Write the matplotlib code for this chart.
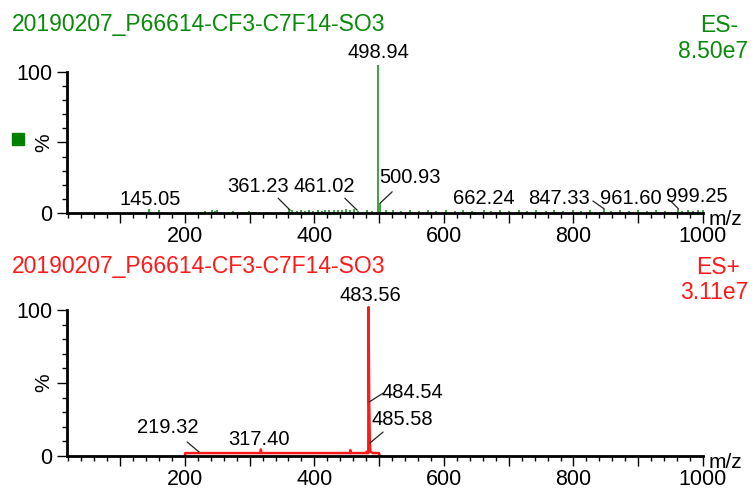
import numpy as np
import matplotlib
matplotlib.use("Agg")
import matplotlib.pyplot as plt
from matplotlib.patches import Rectangle
from matplotlib.ticker import MultipleLocator, FuncFormatter

plt.rcParams['font.family'] = ['Liberation Sans', 'DejaVu Sans']

# ES- spectrum (centroid sticks), % relative intensity
neg_mz = [145.05, 160.1, 231.0, 242.1, 246.0, 250.2, 274.0, 299.1, 361.23, 366.0,
          373.1, 380.0, 386.2, 392.0, 398.1, 405.0, 411.2, 417.0, 423.1, 430.0,
          436.2, 442.0, 449.1, 455.0, 461.02, 467.0, 481.0, 489.1, 498.94, 500.93,
          510.2, 521.0, 534.1, 548.0, 561.2, 575.0, 588.1, 603.0, 617.2, 630.0,
          644.1, 662.24, 672.0, 687.1, 701.0, 715.2, 729.0, 742.1, 757.0, 770.2,
          784.0, 799.1, 812.0, 826.2, 847.33, 858.0, 872.1, 886.0, 900.2, 913.0,
          927.1, 941.0, 961.60, 968.0, 976.1, 984.0, 992.2, 999.25]
neg_int = [2.5, 1.8, 1.6, 2.2, 1.5, 2.0, 1.4, 1.6, 2.6, 1.8,
           1.5, 2.0, 1.6, 2.1, 1.7, 2.3, 1.6, 2.0, 2.4, 1.8,
           2.2, 1.9, 2.5, 2.1, 3.0, 1.7, 2.2, 1.6, 105.0, 7.0,
           1.8, 2.2, 1.6, 2.0, 1.5, 2.1, 1.7, 1.9, 1.5, 2.0,
           1.6, 2.3, 1.6, 2.0, 1.5, 1.9, 1.7, 2.0, 1.5, 1.8,
           1.6, 1.9, 1.5, 1.8, 2.6, 1.6, 1.9, 1.5, 2.0, 1.7,
           1.9, 1.6, 2.6, 1.7, 2.0, 1.6, 1.8, 2.4]

# ES+ spectrum (profile trace)
pos_mz = [200.0, 200.5, 260.0, 317.0, 317.4, 317.8, 400.0, 455.0, 455.4, 455.8,
          480.5, 481.0, 481.5, 483.2, 483.56, 484.54, 485.58, 486.5, 490.0, 500.0, 500.5]
pos_int = [0.0, 2.0, 2.0, 2.0, 4.5, 2.0, 2.0, 2.0, 4.0, 2.0,
           2.0, 3.0, 2.0, 2.0, 102.0, 37.0, 9.0, 3.0, 2.0, 2.0, 0.0]

title = "20190207_P66614-CF3-C7F14-SO3"
neg_mode, neg_tic = "ES-", "8.50e7"
pos_mode, pos_tic = "ES+", "3.11e7"

# peak labels: text, label centre (m/z, %), optional leader (from, to)
neg_labels = [
    ("498.94", (498.3, 114.0), None),
    ("145.05", (146.0, 9.5), None),
    ("361.23", (313.0, 19.0), ((362.5, 2.0), (344.0, 10.5))),
    ("461.02", (415.0, 19.0), ((466.0, 2.0), (447.0, 10.5))),
    ("500.93", (548.0, 25.5), ((501.5, 7.0), (520.0, 15.0))),
    ("662.24", (662.0, 10.5), None),
    ("847.33", (778.0, 10.5), ((847.3, 3.0), (830.0, 8.5))),
    ("961.60", (888.0, 10.5), ((962.0, 3.0), (950.0, 8.5))),
    ("999.25", (991.0, 11.5), None),
]
pos_labels = [
    ("483.56", (486.0, 110.0), None),
    ("219.32", (174.0, 19.2), ((222.0, 2.7), (203.5, 9.6))),
    ("317.40", (315.0, 11.0), None),
    ("484.54", (552.0, 43.8), ((484.5, 37.0), (506.0, 43.0))),
    ("485.58", (535.0, 24.7), ((486.0, 9.0), (506.0, 16.4))),
]

green = '#0a8a0a'
red = '#ff1a1a'

fig = plt.figure(figsize=(7.55, 4.9), dpi=100)
ax1 = fig.add_axes([67/755, 1-213/490, 636/755, 141/490])
ax2 = fig.add_axes([67/755, 1-456/490, 636/755, 146/490])


def style(ax):
    ax.set_xlim(18, 1000)
    ax.set_ylim(0, 100)
    for s in ['top', 'right']:
        ax.spines[s].set_visible(False)
    ax.spines['left'].set_linewidth(2.0)
    ax.spines['bottom'].set_linewidth(2.0)
    ax.xaxis.set_major_locator(MultipleLocator(100))
    ax.xaxis.set_minor_locator(MultipleLocator(20))
    ax.xaxis.set_major_formatter(FuncFormatter(
        lambda v, p: f"{int(v)}" if v % 200 == 0 and v > 0 else ""))
    ax.set_yticks([0, 50, 100])
    ax.set_yticklabels(['0', '', '100'])
    ax.yaxis.set_minor_locator(MultipleLocator(10))
    ax.tick_params(which='major', length=7.5, width=1, labelsize=15.5, pad=3)
    ax.tick_params(which='minor', length=3.8, width=1)
    ax.tick_params(axis='x', which='major', pad=2)
    ax.text(1.008, -0.045, "m/z", transform=ax.transAxes, fontsize=15,
            ha='left', va='center')
    ax.text(-0.036, 0.5, "%", transform=ax.transAxes, fontsize=15,
            rotation=90, ha='center', va='center')
    ax.patch.set_alpha(0)


def add_labels(ax, labels):
    for txt, (tx, ty), lead in labels:
        ax.text(tx, ty, txt, fontsize=14.5, ha='center', va='center',
                clip_on=False)
        if lead is not None:
            (x0, y0), (x1, y1) = lead
            ax.annotate('', xy=(x0, y0), xytext=(x1, y1),
                        arrowprops=dict(arrowstyle='-', color='#222222', lw=0.9,
                                        shrinkA=0, shrinkB=0),
                        annotation_clip=False)


style(ax1)
ax1.vlines(neg_mz, 0, neg_int, color=green, lw=1.1, clip_on=False, zorder=1)
add_labels(ax1, neg_labels)

style(ax2)
ax2.plot(pos_mz, pos_int, color=red, lw=1.8, clip_on=False, zorder=1)
add_labels(ax2, pos_labels)

fig.text(12/755, 1-25/490, title, color=green, fontsize=16.5, ha='left', va='center')
fig.text(738/755, 1-25/490, neg_mode, color=green, fontsize=16.5, ha='right', va='center')
fig.text(748/755, 1-51/490, neg_tic, color=green, fontsize=16.5, ha='right', va='center')
fig.text(12/755, 1-266/490, title, color=red, fontsize=16.5, ha='left', va='center')
fig.text(740/755, 1-267/490, pos_mode, color=red, fontsize=16.5, ha='right', va='center')
fig.text(748/755, 1-292/490, pos_tic, color=red, fontsize=16.5, ha='right', va='center')
fig.add_artist(Rectangle((12/755, 1-145/490), 12/755, 12/490,
                         transform=fig.transFigure, color='#008000'))

fig.savefig("out.png", dpi=100)
